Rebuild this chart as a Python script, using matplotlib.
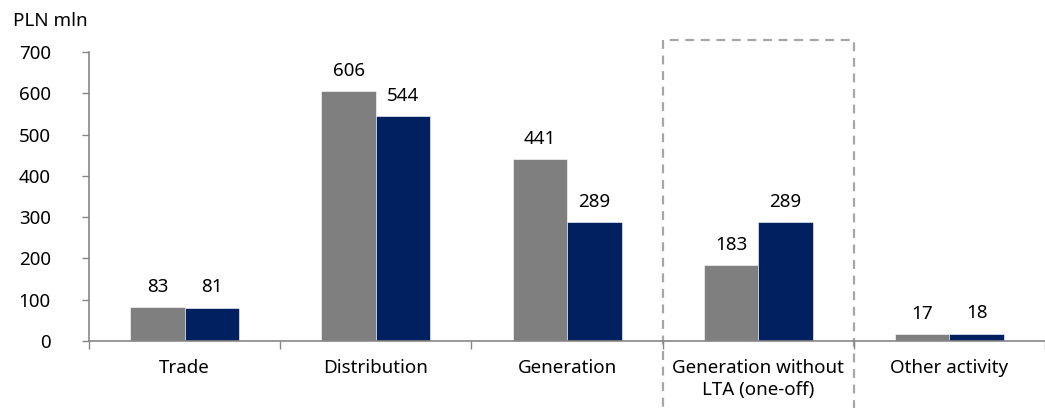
import matplotlib
matplotlib.use("Agg")
import matplotlib.pyplot as plt
import matplotlib.patches as mpatches
import numpy as np

plt.rcParams['font.family'] = ['Noto Sans', 'DejaVu Sans']
plt.rcParams['ytick.major.pad'] = 22.5
plt.rcParams['xtick.minor.pad'] = 13

categories = ['Trade', 'Distribution', 'Generation', 'Generation without\nLTA (one-off)', 'Other activity']
series_a = [83, 606, 441, 183, 17]
series_b = [81, 544, 289, 289, 18]

gray = '#7F7F7F'
navy = '#002060'
axis_col = '#868686'
fs = 13.5

fig = plt.figure(figsize=(10.45, 4.08), dpi=100)
ax = fig.add_axes([0.0852, 0.1642, 0.9148, 0.7083])

x = np.arange(len(categories))
w = 0.285
bars_a = ax.bar(x - w / 2, series_a, w, color=gray, edgecolor='white', linewidth=0.4)
bars_b = ax.bar(x + w / 2, series_b, w, color=navy, edgecolor='white', linewidth=0.4)

for bars, vals in ((bars_a, series_a), (bars_b, series_b)):
    for b, v in zip(bars, vals):
        ax.annotate(str(v), (b.get_x() + b.get_width() / 2, v), xytext=(0, 8),
                    textcoords='offset points', ha='center', va='bottom', fontsize=fs)

ax.set_xlim(-0.5, len(categories) - 0.5)
ax.set_ylim(0, 700)
ax.set_yticks(range(0, 701, 100))
ax.tick_params(axis='y', length=5, width=1, color=axis_col, labelsize=fs)

# category boundaries as ticks, labels at centres
ax.set_xticks(np.arange(-0.5, len(categories), 1.0))
ax.set_xticklabels([])
ax.set_xticks(x, minor=True)
ax.set_xticklabels(categories, minor=True, fontsize=fs, linespacing=1.25)
ax.tick_params(axis='x', which='major', length=6, width=1, color=axis_col, direction='out')
ax.tick_params(axis='x', which='minor', length=0)

for s in ('top', 'right'):
    ax.spines[s].set_visible(False)
for s in ('left', 'bottom'):
    ax.spines[s].set_color(axis_col)
    ax.spines[s].set_linewidth(1.2)

# dashed frame around the one-off category
box = mpatches.Rectangle((2.5, -260), 1.0, 990, fill=False, edgecolor='#A6A6A6',
                         linestyle=(0, (4, 3)), linewidth=1.6, clip_on=False)
ax.add_patch(box)

fig.text(0.0125, 0.948, 'PLN mln', fontsize=fs, ha='left', va='center')

fig.savefig('out.png', dpi=100)
